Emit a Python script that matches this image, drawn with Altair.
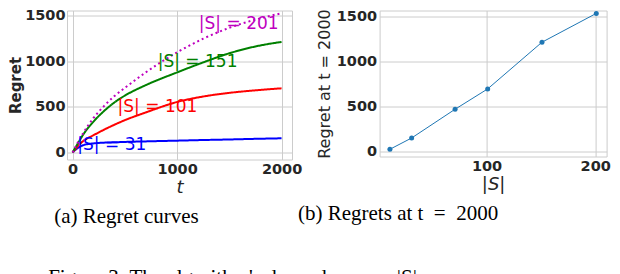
import altair as alt
import pandas as pd

# ---- data ----
t_vals = [0, 50, 100, 200, 300, 400, 500, 700, 1000, 1250, 1500, 1750, 2000]
reg_31 = [0, 50, 80, 100, 108, 112, 116, 122, 130, 137, 143, 150, 156]
reg_101 = [0, 70, 125, 190, 250, 305, 355, 440, 555, 615, 655, 683, 705]
reg_151 = [0, 100, 195, 340, 455, 550, 625, 740, 880, 990, 1090, 1165, 1215]
reg_201 = [0, 110, 210, 380, 510, 620, 710, 880, 1100, 1250, 1370, 1460, 1530]

series_names = ["31", "101", "151", "201"]
series_colors = ["#0000ff", "#ff0000", "#008000", "#bf00bf"]
series_dash = [[1, 0], [1, 0], [1, 0], [2, 3]]

label_text = ["|S| = 31", "|S| = 101", "|S| = 151", "|S| = 201"]
label_t = [375, 812, 1196, 1590]
label_r = [85, 500, 990, 1415]

s_sizes = [11, 31, 71, 101, 151, 201]
final_regret = [25, 150, 468, 693, 1210, 1529]

# ---- tables ----
rows = []
for name, vals in zip(series_names, [reg_31, reg_101, reg_151, reg_201]):
    for t, r in zip(t_vals, vals):
        rows.append({"t": t, "regret": r, "S": name})
curves = pd.DataFrame(rows)
labels = pd.DataFrame({"t": label_t, "regret": label_r, "S": series_names, "txt": label_text})
finals = pd.DataFrame({"S": s_sizes, "regret": final_regret})

color_scale = alt.Scale(domain=series_names, range=series_colors)
dash_scale = alt.Scale(domain=series_names, range=series_dash)

xL = alt.X("t:Q", scale=alt.Scale(domain=[-54, 2100], nice=False, zero=False),
           axis=alt.Axis(values=[0, 1000, 2000], format="d", title="t", titleFontStyle="italic",
                         titleFontWeight="normal", titleFontSize=18, titlePadding=2))
yL = alt.Y("regret:Q", scale=alt.Scale(domain=[-77, 1560], nice=False, zero=False),
           axis=alt.Axis(values=[0, 500, 1000, 1500], format="d", title="Regret",
                         titleFontWeight="bold", titleFontSize=15, titlePadding=1, labelPadding=2))

lines = alt.Chart(curves).mark_line(strokeWidth=2, interpolate="monotone").encode(
    x=xL, y=yL,
    color=alt.Color("S:N", scale=color_scale, legend=None),
    strokeDash=alt.StrokeDash("S:N", scale=dash_scale, legend=None),
)
texts = alt.Chart(labels).mark_text(font="DejaVu Sans", fontSize=17).encode(
    x="t:Q", y="regret:Q", text="txt:N",
    color=alt.Color("S:N", scale=color_scale, legend=None),
)
left = alt.layer(lines, texts).properties(
    width=225, height=149,
    title=alt.TitleParams("(a) Regret curves", orient="bottom", font="Liberation Serif",
                          fontSize=21, fontWeight="normal", color="black", dx=-53, offset=10),
)

xR = alt.X("S:Q", scale=alt.Scale(domain=[1.5, 210.5], nice=False, zero=False),
           axis=alt.Axis(values=[100, 200], format="d", title="|S|", titleFontStyle="italic",
                         titleFontWeight="normal", titleFontSize=18, titlePadding=2))
yR = alt.Y("regret:Q", scale=alt.Scale(domain=[-55, 1561], nice=False, zero=False),
           axis=alt.Axis(values=[0, 500, 1000, 1500], format="d", title="Regret at t = 2000",
                         titleFontWeight="normal", titleFontSize=16, titlePadding=4))
right = alt.Chart(finals).mark_line(
    color="#1f77b4", strokeWidth=1,
    point=alt.OverlayMarkDef(color="#1f77b4", size=25, filled=True, opacity=1),
).encode(x=xR, y=yR).properties(
    width=227, height=146,
    title=alt.TitleParams("(b) Regrets at t\u2002=\u20022000", orient="bottom",
                          font="Liberation Serif", fontSize=21, fontWeight="normal",
                          color="black", dx=-95, offset=10),
)

chart = alt.hconcat(left, right, spacing=87.6, bounds="flush").properties(
    padding={"left": 0, "top": -1.5, "right": 0, "bottom": 0},
    title=alt.TitleParams("Figure 3: The algorithm's dependence on |S|", orient="bottom",
                          anchor="start", font="Liberation Serif", fontSize=21,
                          fontWeight="normal", color="black", offset=39, dx=40),
).configure_view(stroke="#cccccc", strokeWidth=1).configure_axis(
    grid=True, gridColor="#cccccc", gridWidth=1, domain=False, ticks=False,
    labelFont="DejaVu Sans", labelFontWeight="bold", labelFontSize=14.5, labelColor="#262626",
    labelPadding=3, titleFont="DejaVu Sans", titleColor="#262626", labelFlush=False,
    labelOverlap=False,
)

chart.save("out.html", embed_options={"renderer": "svg", "actions": False})
